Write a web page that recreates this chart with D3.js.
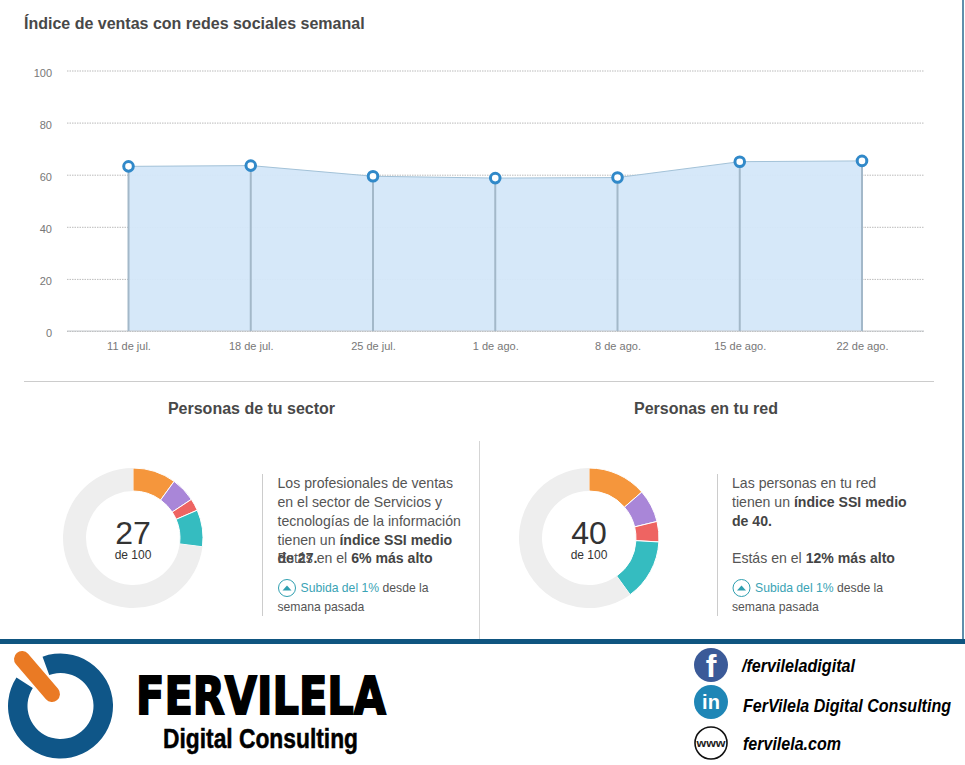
<!DOCTYPE html>
<html>
<head>
<meta charset='utf-8'>
<title>Índice de ventas con redes sociales semanal</title>
<script src='https://d3js.org/d3.v7.min.js'></script>
<style>
    html, body { margin: 0; padding: 0; background: #fff; }
    svg { display: block; font-family: 'Liberation Sans', sans-serif; }
    .axis path { display: none; }
    .axis text { fill: #777; font-size: 11px; font-family: 'Liberation Sans', sans-serif; }
    .y.axis .tick line { stroke: #bbb; stroke-dasharray: 1.5 1; }
</style>
</head>
<body>
<div id='chart'></div>
<script type='text/javascript'>
    // datos semanales
    const weeks = ['11 de jul.', '18 de jul.', '25 de jul.', '1 de ago.', '8 de ago.', '15 de ago.', '22 de ago.'];
    const weekValues = [63.2, 63.5, 59.4, 58.7, 58.9, 65, 65.3];
    const yTicks = [0, 20, 40, 60, 80, 100];

    // anillos: naranja, morado, rojo, turquesa
    const sliceColors = ['#f5963c', '#a986d8', '#ee6462', '#35bcc0'];
    const sectorSlices = [10, 5.7, 2.8, 8.5];
    const redSlices = [13.6, 7.6, 4.7, 14.1];

    const width = 965, height = 765;

    const svg = d3.select('#chart').append('svg')
        .attr('width', width)
        .attr('height', height);

    const xScale = d3.scalePoint().domain(weeks).range([128.5, 862]);
    const yScale = d3.scaleLinear().domain([0, 100]).range([331, 70.5]);

    // borde derecho del panel
    svg.append('line').attr('x1', 963).attr('x2', 963).attr('y1', 0).attr('y2', 640)
        .attr('stroke', '#2a6a90').attr('stroke-width', 1.5);

    const text = (x, y, str, size, color, weight, anchor) => svg.append('text')
        .attr('x', x).attr('y', y)
        .attr('font-size', size + 'px')
        .attr('fill', color)
        .attr('font-weight', weight || 'normal')
        .attr('text-anchor', anchor || 'start')
        .text(str);

    text(24, 29, 'Índice de ventas con redes sociales semanal', 16, '#484848', 'bold');

    // Eje Y con la cuadrícula
    svg.append('g')
        .attr('class', 'y axis')
        .attr('transform', 'translate(67,0)')
        .call(d3.axisLeft(yScale).tickValues(yTicks).tickSize(-857).tickPadding(15))
        .selectAll('text').attr('dy', '0.5em');

    // Área
    const area = d3.area()
        .x((d, i) => xScale(weeks[i]))
        .y0(yScale(0))
        .y1(d => yScale(d));
    svg.append('path').datum(weekValues)
        .attr('d', area)
        .attr('fill', '#d4e7f9')
        .attr('fill-opacity', 0.95);

    const line = d3.line()
        .x((d, i) => xScale(weeks[i]))
        .y(d => yScale(d));
    svg.append('path').datum(weekValues)
        .attr('d', line)
        .attr('fill', 'none')
        .attr('stroke', '#a3c2d8')
        .attr('stroke-width', 1);

    // Eje X
    svg.append('line')
        .attr('x1', 67).attr('x2', 924)
        .attr('y1', yScale(0)).attr('y2', yScale(0))
        .attr('stroke', '#c4c8cc');

    svg.append('g')
        .attr('class', 'x axis')
        .attr('transform', `translate(0,${yScale(0)})`)
        .call(d3.axisBottom(xScale).tickSize(0).tickPadding(11));

    svg.selectAll('.stem')
        .data(weekValues)
        .enter().append('line')
        .attr('class', 'stem')
        .attr('x1', (d, i) => xScale(weeks[i]))
        .attr('x2', (d, i) => xScale(weeks[i]))
        .attr('y1', d => yScale(d))
        .attr('y2', yScale(0))
        .attr('stroke', '#a3b8c9')
        .attr('stroke-width', 2);

    svg.selectAll('.dot')
        .data(weekValues)
        .enter().append('circle')
        .attr('class', 'dot')
        .attr('cx', (d, i) => xScale(weeks[i]))
        .attr('cy', d => yScale(d))
        .attr('r', 4.8)
        .attr('fill', '#fff')
        .attr('stroke', '#3189c9')
        .attr('stroke-width', 3);

    // separadores
    svg.append('line').attr('x1', 24).attr('x2', 934).attr('y1', 381.5).attr('y2', 381.5).attr('stroke', '#ccc');
    svg.append('line').attr('x1', 479.5).attr('x2', 479.5).attr('y1', 441).attr('y2', 640).attr('stroke', '#d5d5d5');
    svg.append('line').attr('x1', 262.5).attr('x2', 262.5).attr('y1', 474).attr('y2', 616).attr('stroke', '#ccc');
    svg.append('line').attr('x1', 717.5).attr('x2', 717.5).attr('y1', 474).attr('y2', 616).attr('stroke', '#ccc');

    text(251.5, 414, 'Personas de tu sector', 16, '#484848', 'bold', 'middle');
    text(706, 414, 'Personas en tu red', 16, '#484848', 'bold', 'middle');

    // Anillos
    const pie = d3.pie().sort(null).value(d => d);
    const arc = d3.arc().innerRadius(47).outerRadius(70);

    const drawDonut = (cx, slices, label) => {
        const rest = 100 - d3.sum(slices);
        const g = svg.append('g').attr('transform', `translate(${cx},538)`);
        g.selectAll('path')
            .data(pie(slices.concat([rest])))
            .enter().append('path')
            .attr('d', arc)
            .attr('fill', (d, i) => i < slices.length ? sliceColors[i] : '#eeeeee')
            .attr('stroke', (d, i) => i < slices.length ? '#fff' : 'none')
            .attr('stroke-width', 1);
        text(cx, 544, label, 32, '#333', 'normal', 'middle');
        text(cx, 559, 'de 100', 12, '#333', 'normal', 'middle');
    };
    drawDonut(133, sectorSlices, '27');
    drawDonut(589, redSlices, '40');

    // Párrafos: cada línea es una lista de trozos [texto, negrita]
    const para = (x, y, parts) => {
        const t = svg.append('text').attr('x', x).attr('y', y).attr('font-size', '14.1px');
        parts.forEach(p => {
            t.append('tspan').text(p[0])
                .attr('font-weight', p[1] ? 'bold' : 'normal')
                .attr('fill', p[1] ? '#444' : '#555');
        });
    };
    para(277.5, 488, [['Los profesionales de ventas']]);
    para(277.5, 507, [['en el sector de Servicios y']]);
    para(277.5, 526, [['tecnologías de la información']]);
    para(277.5, 545, [['tienen un '], ['índice SSI medio', true]]);
    para(277.5, 563, [['de 27.', true]]);
    para(277.5, 563, [['Estás en el '], ['6% más alto', true]]);

    para(732, 488, [['Las personas en tu red']]);
    para(732, 507, [['tienen un '], ['índice SSI medio', true]]);
    para(732, 526, [['de 40.', true]]);
    para(732, 563, [['Estás en el '], ['12% más alto', true]]);

    const change = (x) => {
        svg.append('circle').attr('cx', x + 9.5).attr('cy', 588).attr('r', 8.5)
            .attr('fill', '#fff').attr('stroke', '#2f9fb0').attr('stroke-width', 1);
        svg.append('path')
            .attr('d', `M${x + 5},590.5 L${x + 9.5},585.5 L${x + 14},590.5 Z`)
            .attr('fill', '#2f9fb0');
        const t = svg.append('text').attr('x', x + 23).attr('y', 592).attr('font-size', '12.2px');
        t.append('tspan').text('Subida del 1%').attr('fill', '#3aa3b5');
        t.append('tspan').text(' desde la').attr('fill', '#555');
        text(x, 611, 'semana pasada', 12.2, '#555');
    };
    change(277.5);
    change(732);

    // Pie de página
    svg.append('rect').attr('x', 0).attr('y', 639).attr('width', width).attr('height', 5).attr('fill', '#0f5580');

    // logo
    const ring = d3.arc().innerRadius(33).outerRadius(52.5)
        .startAngle(-20 * Math.PI / 180).endAngle(303 * Math.PI / 180);
    svg.append('path').attr('d', ring).attr('transform', 'translate(60.5,706)').attr('fill', '#0f5688');
    svg.append('line').attr('x1', 22).attr('y1', 659).attr('x2', 52).attr('y2', 694)
        .attr('stroke', '#ea7a24').attr('stroke-width', 16).attr('stroke-linecap', 'round');

    const fit = (x, y, str, size, len, family, weight, style, strokeW) => svg.append('text')
        .attr('x', x).attr('y', y)
        .attr('font-family', family)
        .attr('font-size', size + 'px')
        .attr('font-weight', weight)
        .attr('font-style', style || 'normal')
        .attr('fill', '#000')
        .attr('stroke', strokeW ? '#000' : 'none')
        .attr('stroke-width', strokeW || 0)
        .attr('textLength', len)
        .attr('lengthAdjust', 'spacingAndGlyphs')
        .text(str);

    fit(136, 714, 'FERVILELA', 51, 250, "'DejaVu Sans'", 'bold', null, 1.8);
    fit(163, 748, 'Digital Consulting', 27, 195, "'Liberation Sans'", 'bold', null, 0.5);

    fit(742, 672, '/fervileladigital', 18, 113, "'Liberation Sans'", 'bold', 'italic');
    fit(743, 712, 'FerVilela Digital Consulting', 18, 208, "'Liberation Sans'", 'bold', 'italic');
    fit(743, 750, 'fervilela.com', 18, 98, "'Liberation Sans'", 'bold', 'italic');

    // iconos
    svg.append('circle').attr('cx', 711).attr('cy', 665).attr('r', 17).attr('fill', '#3b5a98');
    svg.append('text').attr('x', 711).attr('y', 677).attr('text-anchor', 'middle')
        .attr('font-size', '32px').attr('font-weight', 'bold').attr('fill', '#fff').text('f');
    svg.append('circle').attr('cx', 711).attr('cy', 702).attr('r', 17).attr('fill', '#1f86b6');
    svg.append('text').attr('x', 711).attr('y', 709).attr('text-anchor', 'middle')
        .attr('font-size', '20px').attr('font-weight', 'bold').attr('fill', '#fff').text('in');
    svg.append('circle').attr('cx', 711).attr('cy', 743).attr('r', 16).attr('fill', '#fff').attr('stroke', '#111').attr('stroke-width', 1.6);
    svg.append('text').attr('x', 711).attr('y', 746.5).attr('text-anchor', 'middle')
        .attr('font-size', '11px').attr('font-weight', 'bold').attr('fill', '#222')
        .attr('textLength', 29).attr('lengthAdjust', 'spacingAndGlyphs').text('www');
</script>
</body>
</html>
